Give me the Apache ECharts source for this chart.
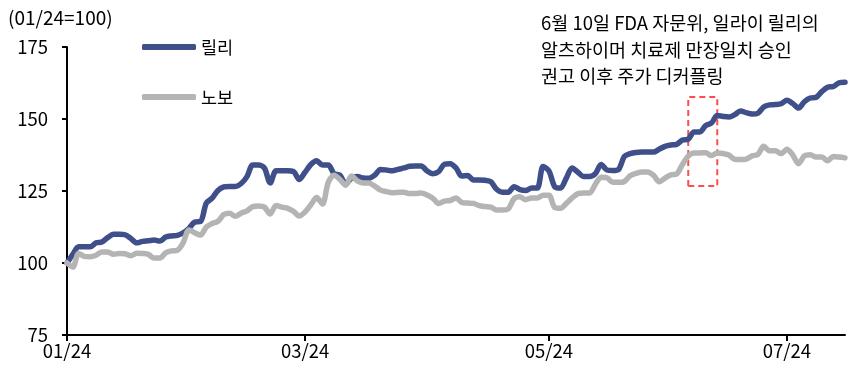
<!DOCTYPE html>
<html>
<head>
<meta charset="utf-8">
<script src="https://cdn.jsdelivr.net/npm/echarts@6/dist/echarts.min.js"></script>
<style>
  html, body { margin: 0; padding: 0; background: #fff; }
  #chart { width: 854px; height: 374px; }
</style>
</head>
<body>
<div id="chart"></div>
<script>
// 거래일 (2024-01-02 ~ 2024-07-16), 미국 휴장일 제외
const startDate = '2024-01-02'
const dayCount = 135
const holidays = ['2024-01-15', '2024-02-19', '2024-03-29', '2024-05-27', '2024-06-19', '2024-07-04']
const tickMonths = ['01', '03', '05', '07']

// 01/24 = 100 기준 지수
const lilly = [
  100, 103, 105.6, 105.6, 105.6, 107, 107.3, 108.8, 110, 110,
  109.8, 108.5, 107, 107.5, 107.7, 108, 107.6, 109, 109.4, 109.6,
  110.5, 112, 114.2, 114.4, 120.8, 122.5, 125.2, 126.4, 126.6, 126.6,
  127.6, 130, 134, 134, 133, 127.8, 132, 132, 132, 131.8,
  129, 131.5, 134.2, 135.5, 134, 134, 131, 130.5, 127.5, 129.5,
  130, 129.5, 129.4, 130.5, 132.5, 132.3, 132, 132.5, 133, 133.6,
  133.7, 133.7, 132, 131, 131.7, 134.3, 134.5, 133, 130.2, 130.4,
  128.8, 128.8, 128.7, 128.2, 125.6, 124.6, 124.6, 126.5, 125.5, 125.2,
  126, 126, 133.5, 132, 126.5, 126, 129.5, 133, 131.5, 130,
  130, 131, 134.2, 132.3, 132.1, 132.5, 137, 138, 138.4, 138.5,
  138.5, 138.5, 139.5, 140.5, 141, 141.2, 142.7, 143, 145.5, 145.5,
  147.7, 148.6, 151.2, 150.9, 150.7, 151.5, 152.8, 152.2, 151.7, 152,
  154.2, 154.9, 155, 155.3, 156.5, 155.4, 153.8, 156, 157.3, 157.5,
  159.5, 161, 161.3, 162.6, 162.8
]
const novo = [
  100, 98.6, 103.3, 102.3, 102.2, 102.7, 103.8, 103.8, 103, 103.3,
  103.2, 102.5, 103.4, 103.3, 103, 101.7, 101.7, 103.5, 104.2, 104.4,
  107, 111.5, 110.5, 109.7, 112.5, 113.7, 114.5, 116.8, 117.3, 116.2,
  117.3, 118.1, 119.6, 119.8, 119.4, 117, 120, 119.4, 119, 118,
  116.3, 117.7, 120.2, 122.7, 120.5, 128, 130.5, 129, 127, 130.2,
  128.5, 127.8, 127.8, 126.7, 125.3, 124.8, 124.4, 124.5, 124.6, 124.1,
  124.1, 124.3, 123.6, 122.5, 120.7, 121.5, 121.7, 122.6, 121, 120.8,
  120.7, 119.9, 119.6, 119.4, 118.4, 118.4, 118.8, 122.3, 123, 122,
  122.6, 122.6, 123.5, 123.5, 119.3, 119, 120.7, 122.6, 124.1, 124.3,
  124.3, 127.3, 129.8, 129.6, 128, 128, 128.3, 130.3, 131.1, 131.6,
  131.6, 130.5, 128.2, 129.5, 130.6, 130.9, 134.2, 137.1, 138.2, 138.2,
  138.3, 137.3, 138.2, 138, 137.5, 136, 135.9, 136.1, 137.2, 137.7,
  140.5, 139, 139, 138, 139.5, 137.5, 134.5, 137.2, 137.6, 136.8,
  136.8, 135.5, 137, 136.8, 136.5
]

// 6월 10일 전후 강조 구간
const boxFrom = 107
const boxTo = 112
const boxLow = 126.7
const boxHigh = 157.6

const note = '6월 10일 FDA 자문위, 일라이 릴리의\n알츠하이머 치료제 만장일치 승인\n권고 이후 주가 디커플링'

const dates = []
const d = new Date(startDate + 'T00:00:00Z')
while (dates.length < dayCount) {
  const s = d.toISOString().slice(0, 10)
  const wd = d.getUTCDay()
  if (wd !== 0 && wd !== 6 && !holidays.includes(s)) dates.push(s)
  d.setUTCDate(d.getUTCDate() + 1)
}

// 홀수 달 첫 거래일에만 눈금
const isTick = (idx) => {
  const s = dates[idx]
  const m = s.slice(5, 7)
  if (!tickMonths.includes(m)) return false
  return idx === 0 || dates[idx - 1].slice(5, 7) !== m
}

const font = '"Noto Sans CJK KR", "Noto Sans", sans-serif'

const chart = echarts.init(document.getElementById('chart'))
chart.setOption({
  animation: false,
  title: {
    text: '(01/24=100)',
    left: 3,
    top: 3,
    textStyle: { fontSize: 19, fontWeight: 'normal', color: '#000', fontFamily: font }
  },
  legend: {
    orient: 'vertical',
    left: 142,
    top: 37,
    padding: 0,
    itemWidth: 54,
    itemHeight: 6,
    itemGap: 30,
    icon: 'roundRect',
    textStyle: { fontSize: 17.5, color: '#000', fontFamily: font, lineHeight: 20 },
    data: ['릴리', '노보']
  },
  graphic: [{
    type: 'text',
    left: 541,
    top: 10,
    style: { text: note, font: '18.5px ' + font, fill: '#000', lineHeight: 26.5 }
  }],
  grid: { left: 67, right: 9, top: 47, bottom: 39 },
  xAxis: {
    type: 'category',
    data: dates,
    boundaryGap: false,
    axisLine: { lineStyle: { color: '#000', width: 2 } },
    axisTick: { interval: isTick, length: 6, lineStyle: { color: '#000', width: 2 } },
    axisLabel: {
      interval: isTick,
      fontSize: 18.5,
      color: '#000',
      fontFamily: font,
      margin: 7,
      formatter: (v) => v.slice(5, 7) + '/' + v.slice(2, 4)
    },
    splitLine: { show: false }
  },
  yAxis: {
    type: 'value',
    min: 75,
    max: 175,
    interval: 25,
    axisLine: { show: true, lineStyle: { color: '#000', width: 2 } },
    axisTick: { show: true, length: 5, lineStyle: { color: '#000', width: 2 } },
    axisLabel: { fontSize: 18.5, color: '#000', fontFamily: font, margin: 19 },
    splitLine: { show: false }
  },
  series: [
    {
      name: '릴리',
      type: 'line',
      data: lilly,
      symbol: 'none',
      smooth: 0.3,
      itemStyle: { color: '#3f4f8a' },
      lineStyle: { width: 5.5, color: '#3f4f8a', cap: 'round', join: 'round' },
      markArea: {
        silent: true,
        itemStyle: {
          color: 'rgba(0,0,0,0)',
          borderColor: '#ff4d4d',
          borderWidth: 2,
          borderType: [6, 4]
        },
        data: [[
          { xAxis: dates[boxFrom], yAxis: boxLow },
          { xAxis: dates[boxTo], yAxis: boxHigh }
        ]]
      }
    },
    {
      name: '노보',
      type: 'line',
      data: novo,
      symbol: 'none',
      smooth: 0.3,
      itemStyle: { color: '#b4b4b4' },
      lineStyle: { width: 5.5, color: '#b4b4b4', cap: 'round', join: 'round' }
    }
  ]
})
</script>
</body>
</html>
